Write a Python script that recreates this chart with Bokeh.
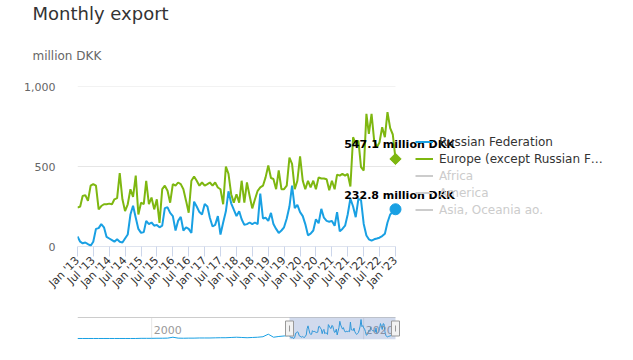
from math import pi
import pandas as pd
from bokeh.plotting import figure
from bokeh.layouts import column
from bokeh.models import (Range1d, FixedTicker, NumeralTickFormatter,
                          DatetimeTickFormatter, Legend, LegendItem, Label,
                          BoxAnnotation, Title)
from bokeh.embed import file_html
from bokeh.resources import INLINE

# ---------------- data ----------------
title_text = "Monthly export"
unit_text = "million DKK"
series_names = ["Russian Federation", "Europe (except Russian F\u2026", "Africa", "America",
                "Asia, Oceania ao."]
start_month = "2013-01-01"

russia = [63, 30, 20, 25, 15, 5, 30, 110, 115, 140,
          120, 60, 50, 40, 30, 45, 30, 25, 50, 75,
          200, 255, 180, 110, 85, 90, 160, 140, 150, 130,
          135, 120, 130, 240, 245, 210, 190, 100, 160, 185,
          100, 120, 110, 85, 280, 250, 215, 200, 265, 250,
          180, 125, 135, 190, 75, 150, 220, 345, 270, 230,
          190, 220, 170, 135, 140, 150, 140, 150, 140, 330,
          175, 180, 160, 210, 140, 110, 85, 100, 120, 175,
          250, 380, 240, 260, 215, 190, 140, 70, 80, 100,
          170, 145, 235, 180, 160, 155, 160, 130, 215, 95,
          110, 130, 200, 300, 250, 183, 298, 290, 141, 69,
          45, 37, 45, 50, 55, 65, 80, 150, 200, 215, 232.8]

europe = [243, 250, 316, 321, 285, 380, 390, 380, 232, 253,
          264, 264, 268, 264, 295, 302, 458, 295, 221, 264,
          358, 310, 443, 200, 274, 264, 411, 264, 306, 232,
          295, 148, 358, 380, 348, 274, 390, 380, 400, 390,
          358, 285, 211, 411, 437, 411, 380, 400, 380, 390,
          400, 380, 400, 369, 358, 264, 500, 454, 327, 274,
          327, 274, 411, 274, 400, 316, 238, 295, 348, 369,
          380, 432, 506, 428, 422, 358, 475, 358, 358, 380,
          555, 517, 358, 411, 563, 411, 358, 411, 369, 411,
          358, 432, 425, 425, 420, 352, 411, 358, 449, 443,
          454, 443, 454, 375, 683, 640, 662, 496, 475, 829,
          704, 829, 662, 621, 650, 746, 683, 840, 740, 700, 547.1]

# hidden (switched-off) series: values not shown in the chart (unknown)
africa = [float("nan")]
america = [float("nan")]
asia = [float("nan")]

# navigator history (Russian Federation, half-yearly before 2013)
nav_early_start = "1993-01-01"
nav_early = [5, 5, 5, 5, 5, 5, 5, 5, 5, 5,
             5, 5, 8, 8, 8, 10, 10, 12, 30, 12,
             10, 12, 12, 15, 15, 15, 18, 20, 20, 25,
             30, 25, 20, 25, 30, 40, 90, 30, 45, 55]
nav_labels = ["2000", "2020"]
nav_label_dates = ["2000-01-01", "2020-01-01"]
selection = ["2013-01-01", "2023-01-01"]
y_ticks = [0, 500, 1000]

# ---------------- helpers ----------------
def ms(t):
    return pd.Timestamp(t).value / 1e6

dates = pd.date_range(start_month, periods=len(russia), freq="MS")
dates_ms = [ms(d) for d in dates]
nav_early_dates = pd.date_range(nav_early_start, periods=len(nav_early), freq="6MS")
nav_x = [ms(d) for d in nav_early_dates] + dates_ms
nav_y = nav_early + russia

FONT = "DejaVu Sans"
BLUE = "#19a0e3"
GREEN = "#7eb710"
HIDDEN = "#cccccc"
W = 633
LEFT = 77          # frame left (px)
DATA_RIGHT = 395   # where the last month sits (px)
FRAME_R = 630      # frame right (px) - room for legend and labels
scale = (FRAME_R - LEFT) / (DATA_RIGHT - LEFT)

x0 = dates_ms[0]
x_end = x0 + (dates_ms[-1] - x0) * scale

# ---------------- main chart ----------------
p = figure(width=W, height=300, x_axis_type="datetime", output_backend="svg",
           toolbar_location=None, x_range=Range1d(x0, x_end),
           y_range=Range1d(y_ticks[0], y_ticks[-1]),
           min_border_left=LEFT, min_border_right=W - FRAME_R,
           min_border_top=86, min_border_bottom=54)
p.outline_line_color = None
p.xgrid.grid_line_color = None
p.ygrid.grid_line_color = None

# horizontal grid lines only across the data span
p.segment(x0=[dates_ms[0]] * len(y_ticks), x1=[dates_ms[-1]] * len(y_ticks),
          y0=y_ticks, y1=y_ticks, line_color="#e6e6e6", line_width=1, level="underlay")
p.segment(x0=[dates_ms[0]], x1=[dates_ms[-1]], y0=[y_ticks[0]], y1=[y_ticks[0]],
          line_color="#ccd6eb", line_width=1, level="underlay")

p.yaxis.ticker = FixedTicker(ticks=y_ticks)
p.yaxis.formatter = NumeralTickFormatter(format="0,0")
p.yaxis.axis_line_color = None
p.yaxis.major_tick_line_color = None
p.yaxis.minor_tick_line_color = None
p.yaxis.major_label_standoff = 16
p.yaxis.major_label_text_font = FONT
p.yaxis.major_label_text_font_size = "11px"
p.yaxis.major_label_text_color = "#666666"

p.xaxis.ticker = FixedTicker(ticks=dates_ms[::6])
p.xaxis.formatter = DatetimeTickFormatter(months="%b '%y", years="%b '%y", days="%b '%y")
p.xaxis.major_label_orientation = pi / 4
p.xaxis.axis_line_color = None
p.xaxis.major_tick_line_color = "#ccd6eb"
p.xaxis.major_tick_out = 10
p.xaxis.major_tick_in = 0
p.xaxis.minor_tick_line_color = None
p.xaxis.major_label_standoff = 2
p.xaxis.major_label_text_font = FONT
p.xaxis.major_label_text_font_size = "11px"
p.xaxis.major_label_text_color = "#333333"

r_ru = p.line(dates_ms, russia, line_color=BLUE, line_width=2)
r_eu = p.line(dates_ms, europe, line_color=GREEN, line_width=2)
hidden = []
for vals in (africa, america, asia):
    hidden.append(p.line(dates_ms[:len(vals)], vals, line_color=HIDDEN, line_width=2))

p.scatter([dates_ms[-1]], [russia[-1]], marker="circle", size=11, color=BLUE, level="overlay")
p.scatter([dates_ms[-1]], [europe[-1]], marker="square", angle=pi / 4, size=8, color=GREEN,
          level="overlay")

common = dict(padding=0, margin=0, spacing=0, glyph_width=18, glyph_height=17,
              label_height=17, label_standoff=6, label_text_font=FONT,
              label_text_font_size="12px", border_line_color=None,
              background_fill_alpha=0, level="underlay")
legend_on = Legend(items=[LegendItem(label=n, renderers=[r]) for n, r in
                          zip(series_names[:2], [r_ru, r_eu])],
                   location=(338, 79), label_text_color="#333333", **common)
legend_off = Legend(items=[LegendItem(label=n, renderers=[r]) for n, r in
                           zip(series_names[2:], hidden)],
                    location=(338, 28), label_text_color=HIDDEN, **common)
p.add_layout(legend_on, "center")
p.add_layout(legend_off, "center")

for val in (europe[-1], russia[-1]):
    p.add_layout(Label(x=dates_ms[-1], y=val, text=f"{val:.1f} {unit_text}",
                       x_offset=4, y_offset=14, text_align="center", text_baseline="middle",
                       text_font=FONT, text_font_size="11px", text_font_style="bold",
                       text_color="black", level="overlay"))

# titles (inner one first): unit label, then main title
p.add_layout(Title(text=unit_text, align="left", offset=-45, standoff=47,
                   text_font=FONT, text_font_size="12px", text_font_style="normal",
                   text_color="#666666"), "above")
p.add_layout(Title(text=title_text, align="left", offset=-45, standoff=0,
                   text_font=FONT, text_font_size="18px", text_font_style="normal",
                   text_color="#333333"), "above")

# ---------------- navigator ----------------
n0 = nav_x[0]
n_end = n0 + (nav_x[-1] - n0) * scale
ny0, ny1 = -15, 420
ny_top = ny1 + 20
nav = figure(width=W, height=60, output_backend="svg", toolbar_location=None,
             x_range=Range1d(n0, n_end), y_range=Range1d(ny0, ny_top),
             x_axis_location=None, y_axis_location=None,
             min_border_left=LEFT, min_border_right=W - FRAME_R,
             min_border_top=16, min_border_bottom=21)
nav.outline_line_color = None
nav.grid.grid_line_color = None
label_ms = [ms(d) for d in nav_label_dates]
nav.segment(x0=label_ms, x1=label_ms, y0=[ny0] * len(label_ms), y1=[ny1] * len(label_ms),
            line_color="#e6e6e6", line_width=1)
nav.line(nav_x, nav_y, line_color=BLUE, line_width=1)
for lx, lt in zip(label_ms, nav_labels):
    nav.add_layout(Label(x=lx, y=10, y_units="screen", text=lt, x_offset=2,
                         text_baseline="middle", text_font=FONT, text_font_size="11px",
                         text_color="#999999"))
sel_ms = [ms(s) for s in selection]
nav.add_layout(BoxAnnotation(left=sel_ms[0], right=sel_ms[1], top=ny1, fill_color="#6685c2",
                             fill_alpha=0.3, line_color=None))
nav.segment(x0=[nav_x[0]], x1=[nav_x[-1]], y0=[ny1], y1=[ny1], line_color="#cccccc",
            line_width=1)
ymid = (ny0 + ny1) / 2
nav.rect(x=sel_ms, y=[ymid, ymid], width=8, height=15, width_units="screen",
         height_units="screen", fill_color="#f2f2f2", line_color="#999999", level="overlay")
nav.scatter(x=sel_ms, y=[ymid, ymid], marker="dash", angle=pi / 2, size=6,
            line_color="#999999", level="overlay")

layout = column(p, nav)
open("out.html", "w").write(file_html(layout, INLINE))
